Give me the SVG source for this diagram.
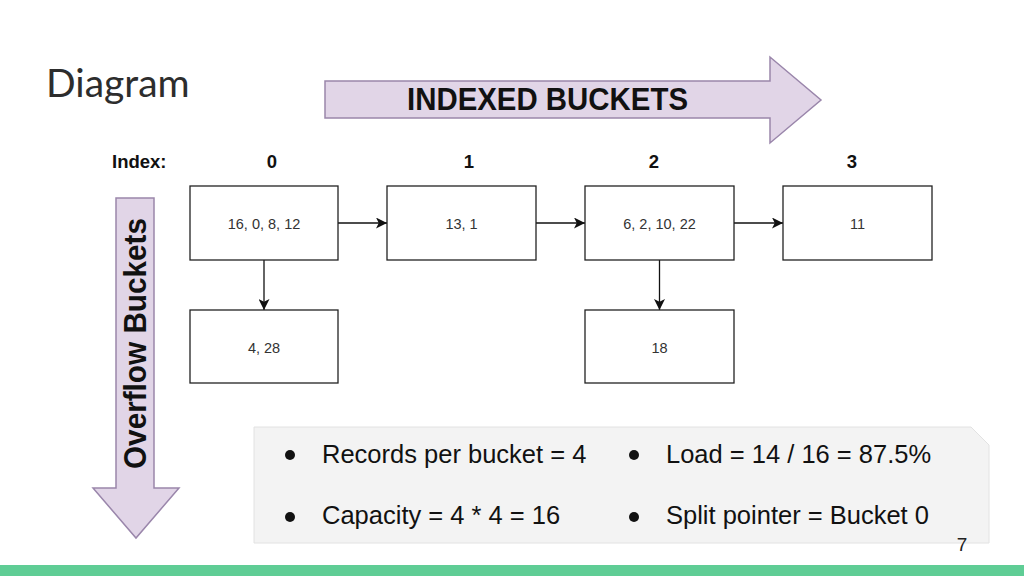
<svg xmlns="http://www.w3.org/2000/svg" width="1024" height="576" viewBox="0 0 1024 576">
<defs>
<marker id="ah" viewBox="0 0 10 10" refX="10" refY="5" markerWidth="11" markerHeight="11" markerUnits="userSpaceOnUse" orient="auto">
<path d="M0,0 L10,5 L0,10 L2.5,5 Z" fill="#111"/>
</marker>
<style>
.big{fill:#e1d5e7;stroke:#9a86ab;stroke-width:1.5}
.box{fill:#fff;stroke:#222;stroke-width:1.3}
.bt{font-family:"Liberation Sans",Arial,sans-serif;font-size:14.5px;fill:#333;text-anchor:middle}
.hd{font-family:"Liberation Sans",Arial,sans-serif;font-weight:bold;fill:#111}
.idx{font-family:"Liberation Sans",Arial,sans-serif;font-weight:bold;font-size:18.5px;fill:#111;text-anchor:middle}
.bl{font-family:"Liberation Sans",Arial,sans-serif;font-size:25.5px;fill:#111}
.con{stroke:#111;stroke-width:1.3;fill:none;marker-end:url(#ah)}
</style>
</defs>
<rect width="1024" height="576" fill="#fff"/>
<text x="46" y="97" font-family="Lato,'Open Sans',sans-serif" font-size="39" fill="#2d2d2d">Diagram</text>

<g id="indexed-arrow">
<path class="big" d="M325,81 L770,81 L770,57 L821,100 L770,143 L770,118 L325,118 Z"/>
<text class="hd" x="407" y="110" font-size="31" textLength="281" lengthAdjust="spacingAndGlyphs">INDEXED BUCKETS</text>
</g>

<g id="overflow-arrow">
<path class="big" d="M116,198 L154,198 L154,488 L179,488 L136,538 L93,488 L116,488 Z"/>
<text class="hd" transform="translate(146,469) rotate(-90)" x="0" y="0" font-size="31" textLength="251" lengthAdjust="spacingAndGlyphs">Overflow Buckets</text>
</g>

<g id="index-labels">
<text x="112" y="168" font-family="Liberation Sans,Arial,sans-serif" font-weight="bold" font-size="18.5" fill="#111">Index:</text>
<text class="idx" x="272" y="168">0</text>
<text class="idx" x="469" y="168">1</text>
<text class="idx" x="654" y="168">2</text>
<text class="idx" x="852" y="168">3</text>
</g>

<g id="connectors">
<line class="con" x1="338" y1="223" x2="387" y2="223"/>
<line class="con" x1="536" y1="223" x2="585" y2="223"/>
<line class="con" x1="734" y1="223" x2="783" y2="223"/>
<line class="con" x1="264" y1="260" x2="264" y2="310"/>
<line class="con" x1="659.5" y1="260" x2="659.5" y2="310"/>
</g>

<g id="bucket0"><rect class="box" x="190" y="186" width="148" height="74"/><text class="bt" x="264" y="229">16, 0, 8, 12</text></g>
<g id="bucket1"><rect class="box" x="387" y="186" width="149" height="74"/><text class="bt" x="461.5" y="229">13, 1</text></g>
<g id="bucket2"><rect class="box" x="585" y="186" width="149" height="74"/><text class="bt" x="659.5" y="229">6, 2, 10, 22</text></g>
<g id="bucket3"><rect class="box" x="783" y="186" width="149" height="74"/><text class="bt" x="857.5" y="229">11</text></g>
<g id="overflow0"><rect class="box" x="190" y="310" width="148" height="73"/><text class="bt" x="264" y="353">4, 28</text></g>
<g id="overflow2"><rect class="box" x="585" y="310" width="149" height="73"/><text class="bt" x="659.5" y="353">18</text></g>

<g id="info-panel">
<path d="M254,427 L971,427 L989,445 L989,543 L254,543 Z" fill="#f3f3f3" stroke="#e2e2e2" stroke-width="1"/>
<circle cx="290" cy="455" r="5" fill="#111"/>
<text class="bl" x="322" y="463">Records per bucket = 4</text>
<circle cx="290" cy="517" r="5" fill="#111"/>
<text class="bl" x="322" y="524">Capacity = 4 * 4 = 16</text>
<circle cx="634" cy="455" r="5" fill="#111"/>
<text class="bl" x="666" y="463">Load = 14 / 16 = 87.5%</text>
<circle cx="634" cy="517" r="5" fill="#111"/>
<text class="bl" x="666" y="524">Split pointer = Bucket 0</text>
</g>

<text x="962" y="551" font-family="Liberation Sans,Arial,sans-serif" font-size="19" fill="#222" text-anchor="middle">7</text>
<rect x="0" y="565" width="1024" height="11" fill="#5fcd95"/>
</svg>
